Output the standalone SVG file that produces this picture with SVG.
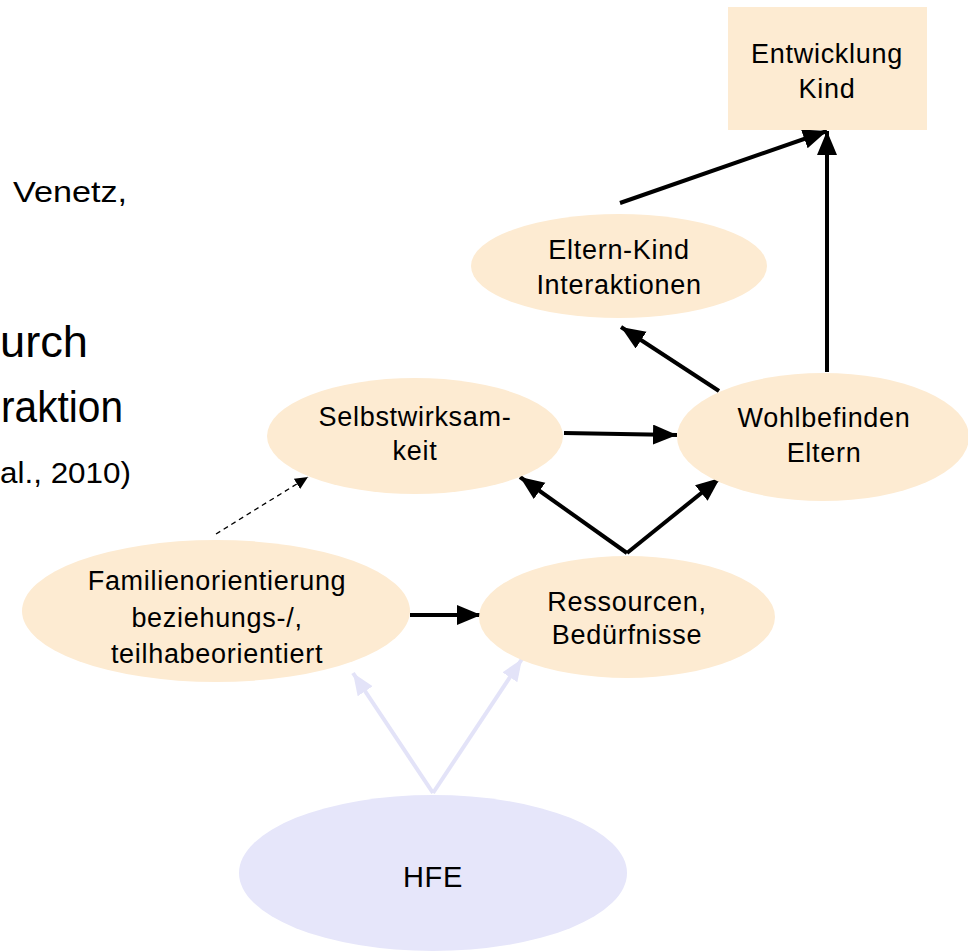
<svg xmlns="http://www.w3.org/2000/svg" width="968" height="951" viewBox="0 0 968 951">
<style>
.node{fill:#FDEBD2}
.hfe{fill:#E6E6FA}
.lbl{font-family:"Liberation Sans",Arial,sans-serif;font-size:27px;fill:#000;text-anchor:middle;letter-spacing:0.7px}
.side{font-family:"Liberation Sans",Arial,sans-serif;fill:#000}
.blk{stroke:#000;stroke-width:4;fill:none}
.lav{stroke:#E3E3F8;stroke-width:4;fill:none}
.dash{stroke:#000;stroke-width:1.3;stroke-dasharray:5 4;fill:none}
</style>
<defs>
<marker id="ab" markerUnits="userSpaceOnUse" markerWidth="26" markerHeight="22" refX="24" refY="10" orient="auto">
<path d="M0,0 L24,10 L0,20 Z" fill="#000"/>
</marker>
<marker id="al" markerUnits="userSpaceOnUse" markerWidth="24" markerHeight="22" refX="22" refY="9" orient="auto">
<path d="M0,0 L22,9 L0,18 Z" fill="#E3E3F8"/>
</marker>
<marker id="ad" markerUnits="userSpaceOnUse" markerWidth="14" markerHeight="14" refX="13" refY="6" orient="auto">
<path d="M0,0 L13,6 L0,12 Z" fill="#000"/>
</marker>
</defs>
<rect width="968" height="951" fill="#fff"/>

<g id="side-text">
<text class="side" x="13" y="202" font-size="29" textLength="114" lengthAdjust="spacingAndGlyphs">Venetz,</text>
<text class="side" x="0" y="357" font-size="45" textLength="88" lengthAdjust="spacingAndGlyphs">urch</text>
<text class="side" x="1" y="422" font-size="44" textLength="122" lengthAdjust="spacingAndGlyphs">raktion</text>
<text class="side" x="0" y="483" font-size="29" textLength="131" lengthAdjust="spacingAndGlyphs">al., 2010)</text>
</g>

<g id="connectors">
<line class="blk" x1="620" y1="203" x2="827" y2="131" marker-end="url(#ab)"/>
<line class="blk" x1="827" y1="372" x2="827" y2="131" marker-end="url(#ab)"/>
<line class="blk" x1="719" y1="391" x2="621" y2="327" marker-end="url(#ab)"/>
<line class="blk" x1="564" y1="433" x2="677" y2="435" marker-end="url(#ab)"/>
<line class="blk" x1="627" y1="553" x2="520" y2="477" marker-end="url(#ab)"/>
<line class="blk" x1="627" y1="553" x2="720" y2="478" marker-end="url(#ab)"/>
<line class="blk" x1="410" y1="615" x2="481" y2="615" marker-end="url(#ab)"/>
<line class="dash" x1="216" y1="534" x2="308" y2="477" marker-end="url(#ad)"/>
<line class="lav" x1="433" y1="793" x2="353" y2="673" marker-end="url(#al)"/>
<line class="lav" x1="433" y1="793" x2="522" y2="659" marker-end="url(#al)"/>
</g>

<g id="entwicklung-kind">
<rect class="node" x="728" y="7" width="199" height="123"/>
<text class="lbl" x="827" y="63">Entwicklung</text>
<text class="lbl" x="827" y="98">Kind</text>
</g>

<g id="eltern-kind-interaktionen">
<ellipse class="node" cx="619" cy="266" rx="148" ry="52"/>
<text class="lbl" x="619" y="259">Eltern-Kind</text>
<text class="lbl" x="619" y="294">Interaktionen</text>
</g>

<g id="selbstwirksamkeit">
<ellipse class="node" cx="415" cy="436" rx="148" ry="58"/>
<text class="lbl" x="415" y="426">Selbstwirksam-</text>
<text class="lbl" x="415" y="460">keit</text>
</g>

<g id="wohlbefinden-eltern">
<ellipse class="node" cx="823" cy="437" rx="146" ry="64"/>
<text class="lbl" x="824" y="427">Wohlbefinden</text>
<text class="lbl" x="824" y="462">Eltern</text>
</g>

<g id="familienorientierung">
<ellipse class="node" cx="216" cy="611" rx="194" ry="71"/>
<text class="lbl" x="217" y="590">Familienorientierung</text>
<text class="lbl" x="217" y="627">beziehungs-/,</text>
<text class="lbl" x="217" y="663">teilhabeorientiert</text>
</g>

<g id="ressourcen">
<ellipse class="node" cx="627" cy="617" rx="148" ry="61"/>
<text class="lbl" x="627" y="611">Ressourcen,</text>
<text class="lbl" x="627" y="644">Bedürfnisse</text>
</g>

<g id="hfe">
<ellipse class="hfe" cx="433" cy="873" rx="194" ry="78"/>
<text class="lbl" x="433" y="887" style="font-size:29px">HFE</text>
</g>
</svg>
